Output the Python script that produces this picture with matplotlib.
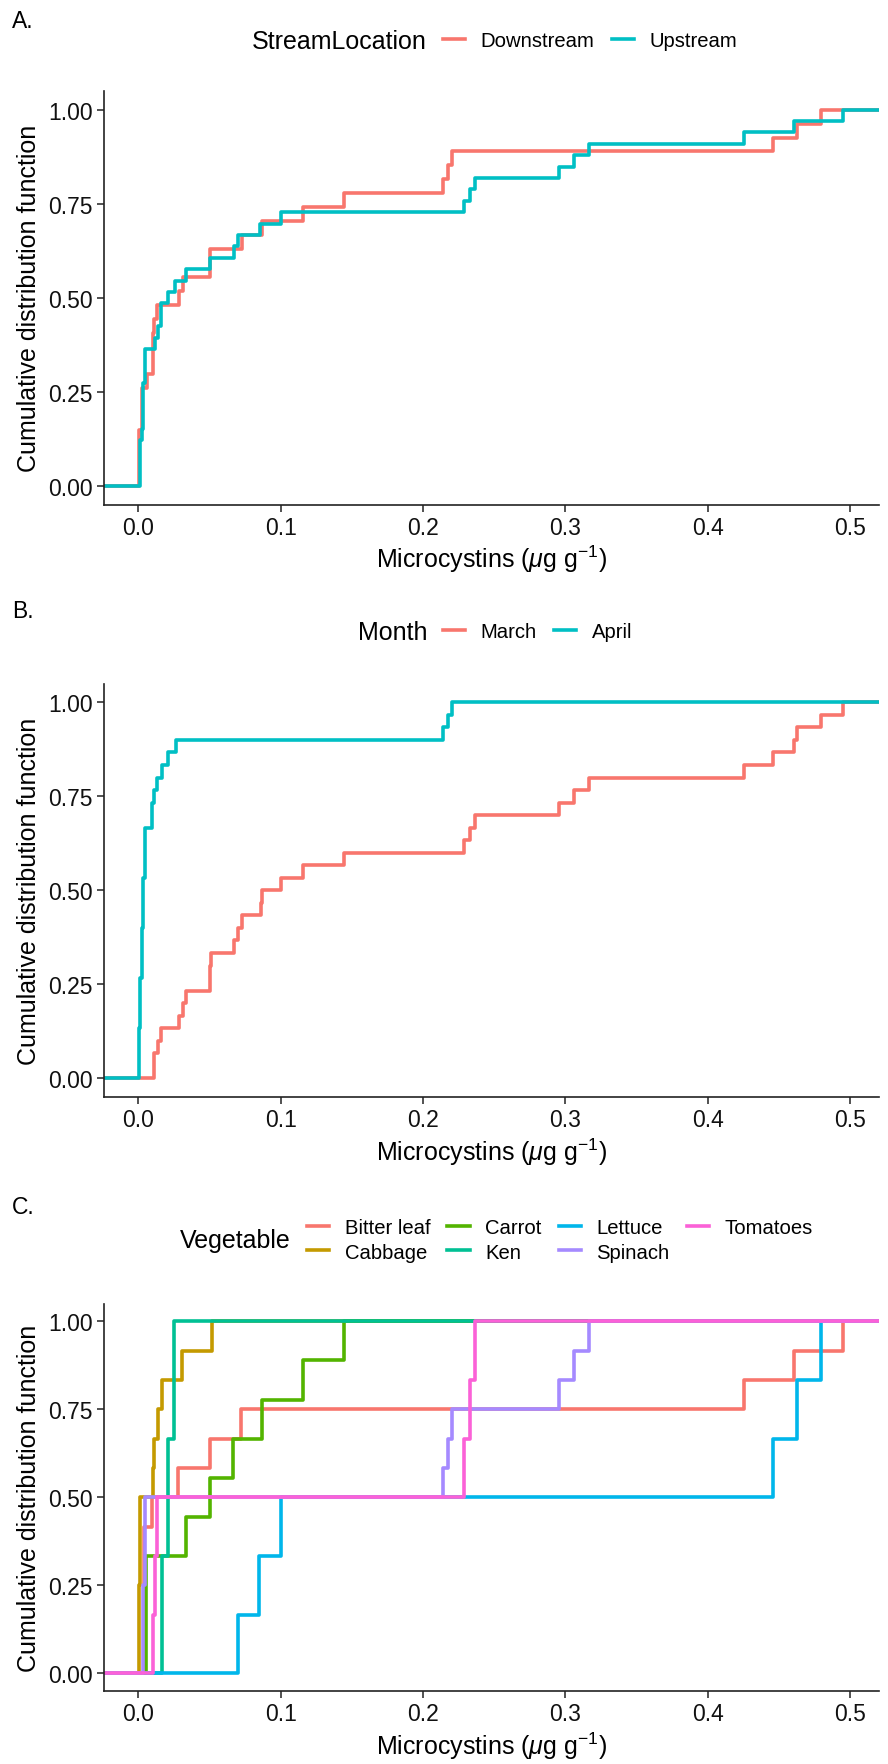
import numpy as np
import matplotlib
matplotlib.use("Agg")
import matplotlib.pyplot as plt
from matplotlib.lines import Line2D

plt.rcParams['font.family'] = ['Liberation Sans', 'DejaVu Sans']
plt.rcParams['mathtext.fontset'] = 'custom'
plt.rcParams['mathtext.rm'] = 'Liberation Sans'
plt.rcParams['mathtext.it'] = 'Liberation Sans:italic'

# ---- data (microcystin sample values, ug/g) ----
# panel A: stream location
downstream = [0.0005, 0.0005, 0.0005, 0.0005, 0.0023, 0.0023, 0.0023, 0.0059,
              0.0100, 0.0100, 0.0100, 0.0112, 0.0129, 0.0288, 0.0311, 0.0504,
              0.0504, 0.0726, 0.0867, 0.1160, 0.1445, 0.2143, 0.2174, 0.2207,
              0.4458, 0.4627, 0.4795]
upstream = [0.0012, 0.0012, 0.0012, 0.0012, 0.0023, 0.0035, 0.0035, 0.0035,
            0.0035, 0.0047, 0.0047, 0.0047, 0.0117, 0.0136, 0.0159, 0.0159,
            0.0211, 0.0258, 0.0335, 0.0504, 0.0672, 0.0703, 0.0855, 0.1000,
            0.2291, 0.2331, 0.2368, 0.2959, 0.3064, 0.3167, 0.4257, 0.4608,
            0.4955]

# panel B: month
march = [0.0112, 0.0112, 0.0136, 0.0159, 0.0288, 0.0311, 0.0333, 0.0504,
         0.0504, 0.0508, 0.0672, 0.0703, 0.0726, 0.0860, 0.0871, 0.1000,
         0.1155, 0.1445, 0.2291, 0.2331, 0.2368, 0.2959, 0.3064, 0.3167,
         0.4257, 0.4458, 0.4608, 0.4627, 0.4795, 0.4955]
april = [0.0005, 0.0005, 0.0005, 0.0005, 0.0012, 0.0012, 0.0012, 0.0012,
         0.0023, 0.0023, 0.0023, 0.0023, 0.0035, 0.0035, 0.0035, 0.0035,
         0.0047, 0.0047, 0.0047, 0.0047, 0.0098, 0.0098, 0.0112, 0.0129,
         0.0164, 0.0211, 0.0262, 0.2143, 0.2174, 0.2207]

# panel C: vegetable
bitter_leaf = [0.0040, 0.0040, 0.0040, 0.0040, 0.0040, 0.0098, 0.0281, 0.0504,
               0.0721, 0.4257, 0.4608, 0.4955]
cabbage = [0.0002, 0.0002, 0.0002, 0.0012, 0.0012, 0.0012, 0.0105, 0.0112,
           0.0136, 0.0164, 0.0309, 0.0515]
carrot = [0.0052, 0.0052, 0.0052, 0.0333, 0.0504, 0.0667, 0.0867, 0.1155, 0.1445]
ken = [0.0164, 0.0211, 0.0253]
lettuce = [0.0703, 0.0850, 0.1000, 0.4458, 0.4627, 0.4795]
spinach = [0.0035, 0.0035, 0.0035, 0.0047, 0.0047, 0.0047, 0.2143, 0.2174,
           0.2207, 0.2959, 0.3064, 0.3167]
tomatoes = [0.0105, 0.0105, 0.0117, 0.0117, 0.0129, 0.0129, 0.2291, 0.2291,
            0.2331, 0.2331, 0.2368, 0.2368]

stream_names = ['Downstream', 'Upstream']
month_names = ['March', 'April']
veg_names = ['Bitter leaf', 'Cabbage', 'Carrot', 'Ken', 'Lettuce', 'Spinach', 'Tomatoes']

col2 = ['#F8766D', '#00BFC4']
col7 = ['#F8766D', '#C49A00', '#53B400', '#00C094', '#00B6EB', '#A58AFF', '#FB61D7']

W, H = 888, 1765
fig = plt.figure(figsize=(W / 100, H / 100), dpi=100)


def make_ax(top, bottom, left=104, right=879):
    ax = fig.add_axes([left / W, 1 - bottom / H, (right - left) / W, (bottom - top) / H])
    ax.set_xlim(-0.0241, 0.5205)
    ax.set_ylim(-0.05, 1.05)
    for s in ['top', 'right']:
        ax.spines[s].set_visible(False)
    for s in ['left', 'bottom']:
        ax.spines[s].set_linewidth(1.2)
        ax.spines[s].set_color('#222222')
    ax.set_xticks([0, 0.1, 0.2, 0.3, 0.4, 0.5])
    ax.set_xticklabels(['0.0', '0.1', '0.2', '0.3', '0.4', '0.5'])
    ax.set_yticks([0, 0.25, 0.5, 0.75, 1.0])
    ax.set_yticklabels(['0.00', '0.25', '0.50', '0.75', '1.00'])
    ax.tick_params(length=5, width=1.2, color='#333333', labelsize=16.5,
                   labelcolor='#111111', pad=3)
    ax.set_xlabel(r'Microcystins ($\mu$g g$^{-1}$)', fontsize=18, labelpad=3)
    ax.set_ylabel('Cumulative distribution function', fontsize=18, labelpad=5)
    return ax


def ecdf_line(ax, vals, color):
    xs = np.sort(np.asarray(vals, dtype=float))
    ys = np.arange(1, len(xs) + 1) / len(xs)
    x0, x1 = ax.get_xlim()
    ax.step(np.r_[x0, xs, x1], np.r_[0, ys, 1], where='post', color=color, lw=2.6)


def header(label, y_lab, title, y_leg, names, colors, title_x, key_x, ncol):
    fig.text(12 / W, 1 - y_lab / H, label, fontsize=16.5, va='center', ha='left')
    fig.text(title_x / W, 1 - y_leg / H, title, fontsize=18, va='center', ha='right')
    handles = [Line2D([], [], color=c, lw=2.6) for c in colors]
    fig.legend(handles, names, loc='center left', bbox_to_anchor=(key_x / W, 1 - y_leg / H),
               ncol=ncol, frameon=False, fontsize=14.6, borderpad=0, borderaxespad=0,
               handlelength=1.1, handletextpad=0.75, columnspacing=0.85, labelspacing=0.25)


# Panel A
axA = make_ax(91.9, 505.5)
for vals, c in zip([downstream, upstream], col2):
    ecdf_line(axA, vals, c)
header('A.', 21, 'StreamLocation', 41.6, stream_names, col2, 427, 443, 2)

# Panel B
axB = make_ax(684.5, 1098.1)
for vals, c in zip([march, april], col2):
    ecdf_line(axB, vals, c)
header('B.', 612, 'Month', 633, month_names, col2, 427, 443, 2)

# Panel C
axC = make_ax(1304.7, 1691.9)
veg_vals = [bitter_leaf, cabbage, carrot, ken, lettuce, spinach, tomatoes]
for vals, c in zip(veg_vals, col7):
    ecdf_line(axC, vals, c)
header('C.', 1207, 'Vegetable', 1241, veg_names, col7, 291, 307, 4)

fig.savefig('out.png', dpi=100)
